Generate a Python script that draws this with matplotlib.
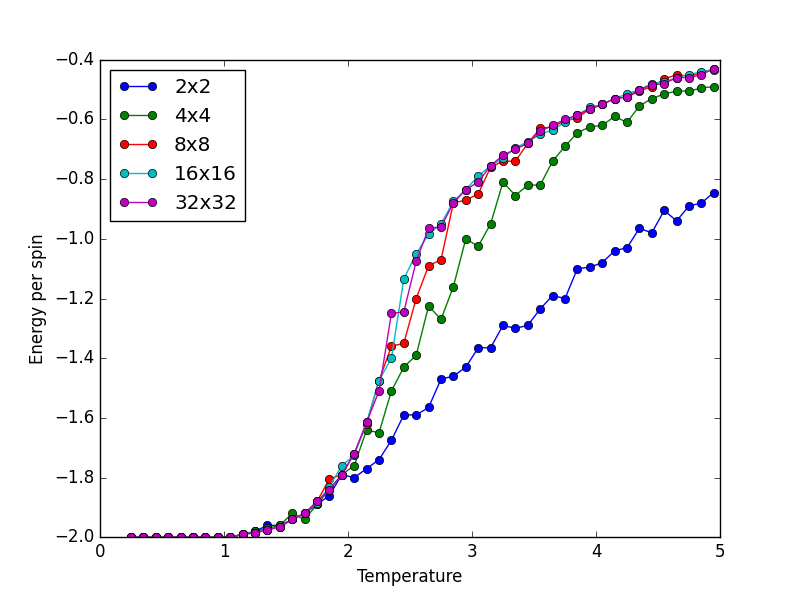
import numpy as np
import matplotlib
matplotlib.use('Agg')
import matplotlib.pyplot as plt

plt.style.use('classic')

temperaturas = np.round(np.arange(0.25, 5.0, 0.1), 2)

bajo = [-2.0] * 9
e_2x2 = bajo + [-1.99, -1.98, -1.96, -1.96, -1.94, -1.92, -1.89, -1.86, -1.79, -1.80,
                -1.77, -1.74, -1.675, -1.59, -1.59, -1.565, -1.47, -1.46, -1.43, -1.365,
                -1.365, -1.29, -1.30, -1.29, -1.235, -1.19, -1.20, -1.10, -1.095, -1.08,
                -1.04, -1.03, -0.965, -0.98, -0.905, -0.94, -0.89, -0.88, -0.845]
e_4x4 = bajo + [-1.99, -1.98, -1.97, -1.96, -1.92, -1.94, -1.89, -1.84, -1.79, -1.76,
                -1.64, -1.65, -1.51, -1.43, -1.39, -1.225, -1.27, -1.16, -1.00, -1.025,
                -0.95, -0.81, -0.855, -0.82, -0.82, -0.74, -0.69, -0.645, -0.625, -0.62,
                -0.59, -0.61, -0.555, -0.53, -0.515, -0.505, -0.505, -0.495, -0.49]
e_8x8 = bajo + [-1.99, -1.985, -1.975, -1.965, -1.94, -1.92, -1.88, -1.805, -1.79, -1.72,
                -1.62, -1.475, -1.36, -1.35, -1.20, -1.09, -1.07, -0.88, -0.87, -0.85,
                -0.76, -0.74, -0.74, -0.68, -0.63, -0.625, -0.605, -0.595, -0.565, -0.55,
                -0.53, -0.525, -0.505, -0.49, -0.465, -0.45, -0.455, -0.445, -0.43]
e_16x16 = bajo + [-1.99, -1.985, -1.975, -1.965, -1.94, -1.92, -1.885, -1.83, -1.76, -1.725,
                  -1.615, -1.475, -1.40, -1.135, -1.05, -0.985, -0.95, -0.875, -0.835, -0.79,
                  -0.755, -0.73, -0.695, -0.675, -0.65, -0.635, -0.61, -0.585, -0.56, -0.55,
                  -0.53, -0.515, -0.50, -0.48, -0.475, -0.46, -0.45, -0.44, -0.435]
e_32x32 = bajo + [-1.99, -1.985, -1.975, -1.965, -1.94, -1.92, -1.88, -1.84, -1.79, -1.72,
                  -1.615, -1.51, -1.25, -1.245, -1.075, -0.965, -0.96, -0.88, -0.835, -0.81,
                  -0.755, -0.72, -0.70, -0.68, -0.64, -0.62, -0.60, -0.585, -0.565, -0.55,
                  -0.53, -0.525, -0.50, -0.485, -0.48, -0.46, -0.46, -0.45, -0.43]

series = [('2x2', e_2x2, 'b'), ('4x4', e_4x4, 'g'), ('8x8', e_8x8, 'r'),
          ('16x16', e_16x16, 'c'), ('32x32', e_32x32, 'm')]

fig = plt.figure(figsize=(8, 5.97), dpi=100)
for nombre, valores, color in series:
    plt.plot(temperaturas, valores, '-o', color=color, label=nombre)
plt.xlim(0, 5)
plt.ylim(-2.0, -0.4)
plt.xlabel('Temperature')
plt.ylabel('Energy per spin')
plt.legend(loc='upper left', fontsize='large', numpoints=2)
plt.savefig('out.png', dpi=100)
